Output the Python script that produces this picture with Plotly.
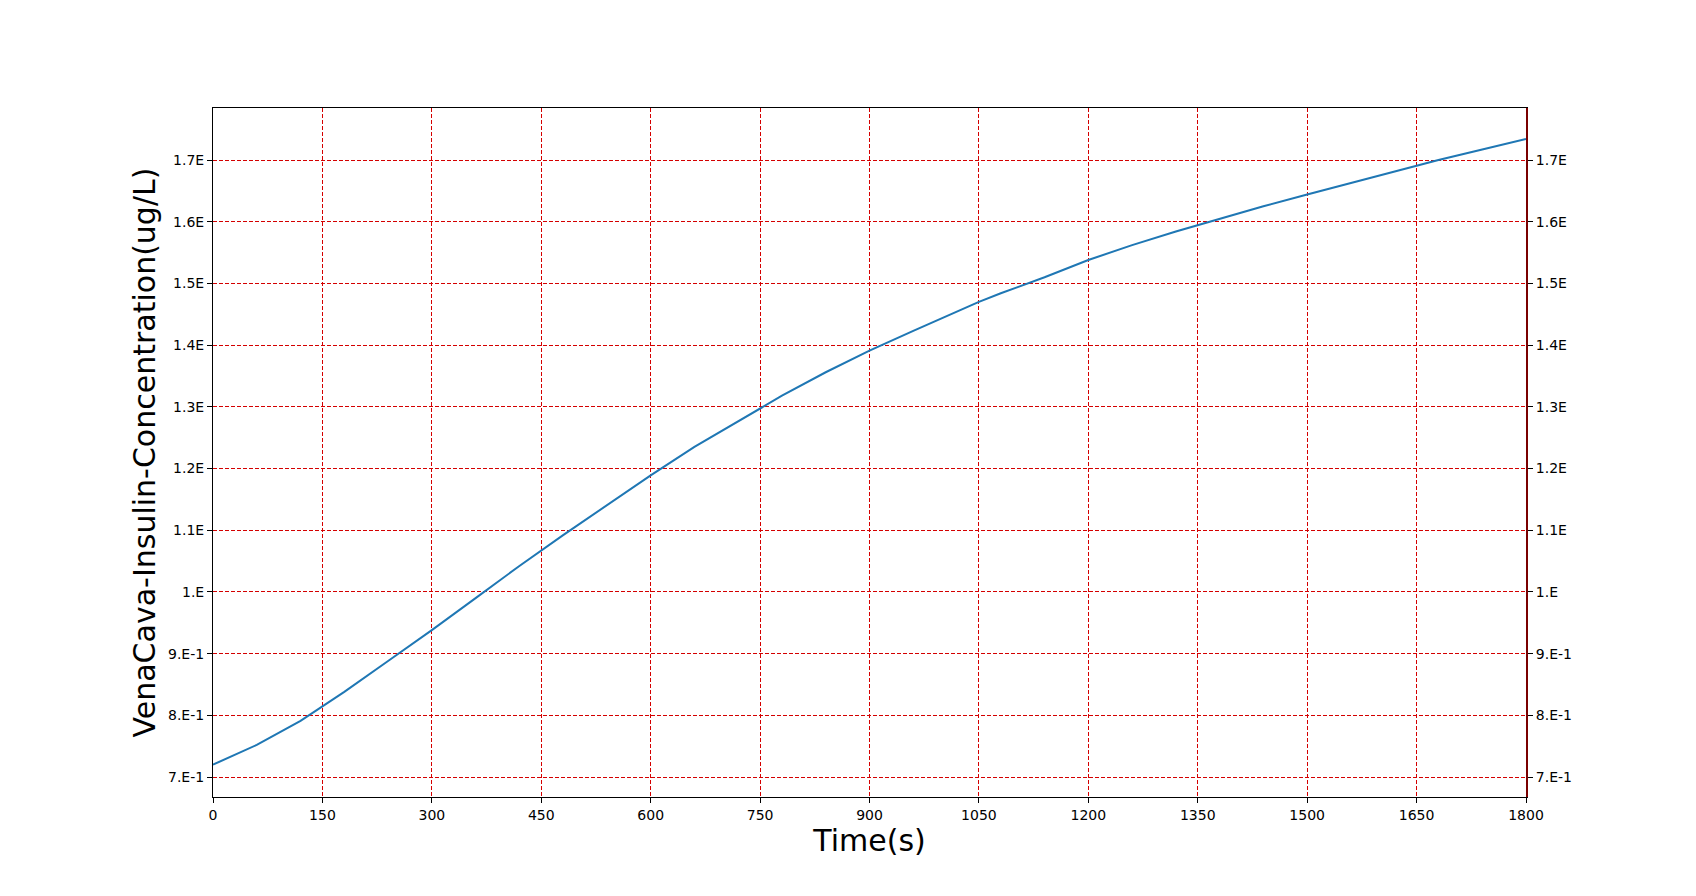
import plotly.graph_objects as go

time_s = [0, 60, 120, 150, 180, 240, 300, 360, 420, 480, 540, 600, 660, 720, 780,
          840, 900, 960, 1020, 1050, 1080, 1140, 1200, 1260, 1320, 1380, 1440, 1500,
          1560, 1620, 1680, 1740, 1800]
concentration = [0.720, 0.752, 0.791, 0.814, 0.838, 0.888, 0.938, 0.990, 1.042, 1.092,
                 1.141, 1.189, 1.235, 1.277, 1.318, 1.356, 1.391, 1.423, 1.455, 1.470,
                 1.484, 1.510, 1.538, 1.562, 1.584, 1.605, 1.625, 1.644, 1.663, 1.681,
                 1.700, 1.717, 1.734]

x_ticks = list(range(0, 1801, 150))
y_tickvals = [0.7, 0.8, 0.9, 1.0, 1.1, 1.2, 1.3, 1.4, 1.5, 1.6, 1.7]
y_ticktext = ["7.E-1", "8.E-1", "9.E-1", "1.E", "1.1E", "1.2E", "1.3E", "1.4E",
              "1.5E", "1.6E", "1.7E"]
y_range = [0.6676, 1.7843]

FONT = "DejaVu Sans"
TICK_SIZE = 14

fig = go.Figure()
fig.add_trace(go.Scatter(x=time_s, y=concentration, mode="lines",
                         line=dict(color="#1f77b4", width=2), showlegend=False))
# twin axis trace (invisible) so the right-hand axis is drawn
fig.add_trace(go.Scatter(x=time_s, y=concentration, mode="lines", yaxis="y2",
                         line=dict(color="rgba(0,0,0,0)", width=0), showlegend=False,
                         hoverinfo="skip"))

grid_color = "#d40000"
fig.update_layout(
    width=1680, height=880,
    margin=dict(l=205, r=162, t=100, b=91),
    paper_bgcolor="white", plot_bgcolor="white",
    font=dict(family=FONT, color="black", size=TICK_SIZE),
    xaxis=dict(
        range=[0, 1800], tickvals=x_ticks, ticks="outside", ticklen=5, tickwidth=1,
        tickcolor="black", showline=True, linecolor="black", linewidth=1, mirror=True,
        showgrid=True, gridcolor=grid_color, gridwidth=1, griddash="4px,2px",
        zeroline=False, tickfont=dict(size=TICK_SIZE, family=FONT),
        title=dict(text="Time(s)", font=dict(size=30, family=FONT), standoff=3),
    ),
    yaxis=dict(
        range=y_range, tickvals=y_tickvals, ticktext=y_ticktext, ticks="outside",
        ticklen=5, tickwidth=1, tickcolor="black", showline=True, linecolor="black",
        linewidth=1, showgrid=True, gridcolor=grid_color, gridwidth=1,
        griddash="4px,2px", zeroline=False, tickfont=dict(size=TICK_SIZE, family=FONT),
        title=dict(text="VenaCava-Insulin-Concentration(ug/L)",
                   font=dict(size=30, family=FONT), standoff=3),
    ),
    yaxis2=dict(
        range=y_range, tickvals=y_tickvals, ticktext=y_ticktext, overlaying="y",
        side="right", ticks="outside", ticklen=5, tickwidth=1, tickcolor="black",
        showline=True, linecolor="#7a0000", linewidth=2, showgrid=False,
        zeroline=False, tickfont=dict(size=TICK_SIZE, family=FONT),
    ),
)

fig.write_html("out.html")
